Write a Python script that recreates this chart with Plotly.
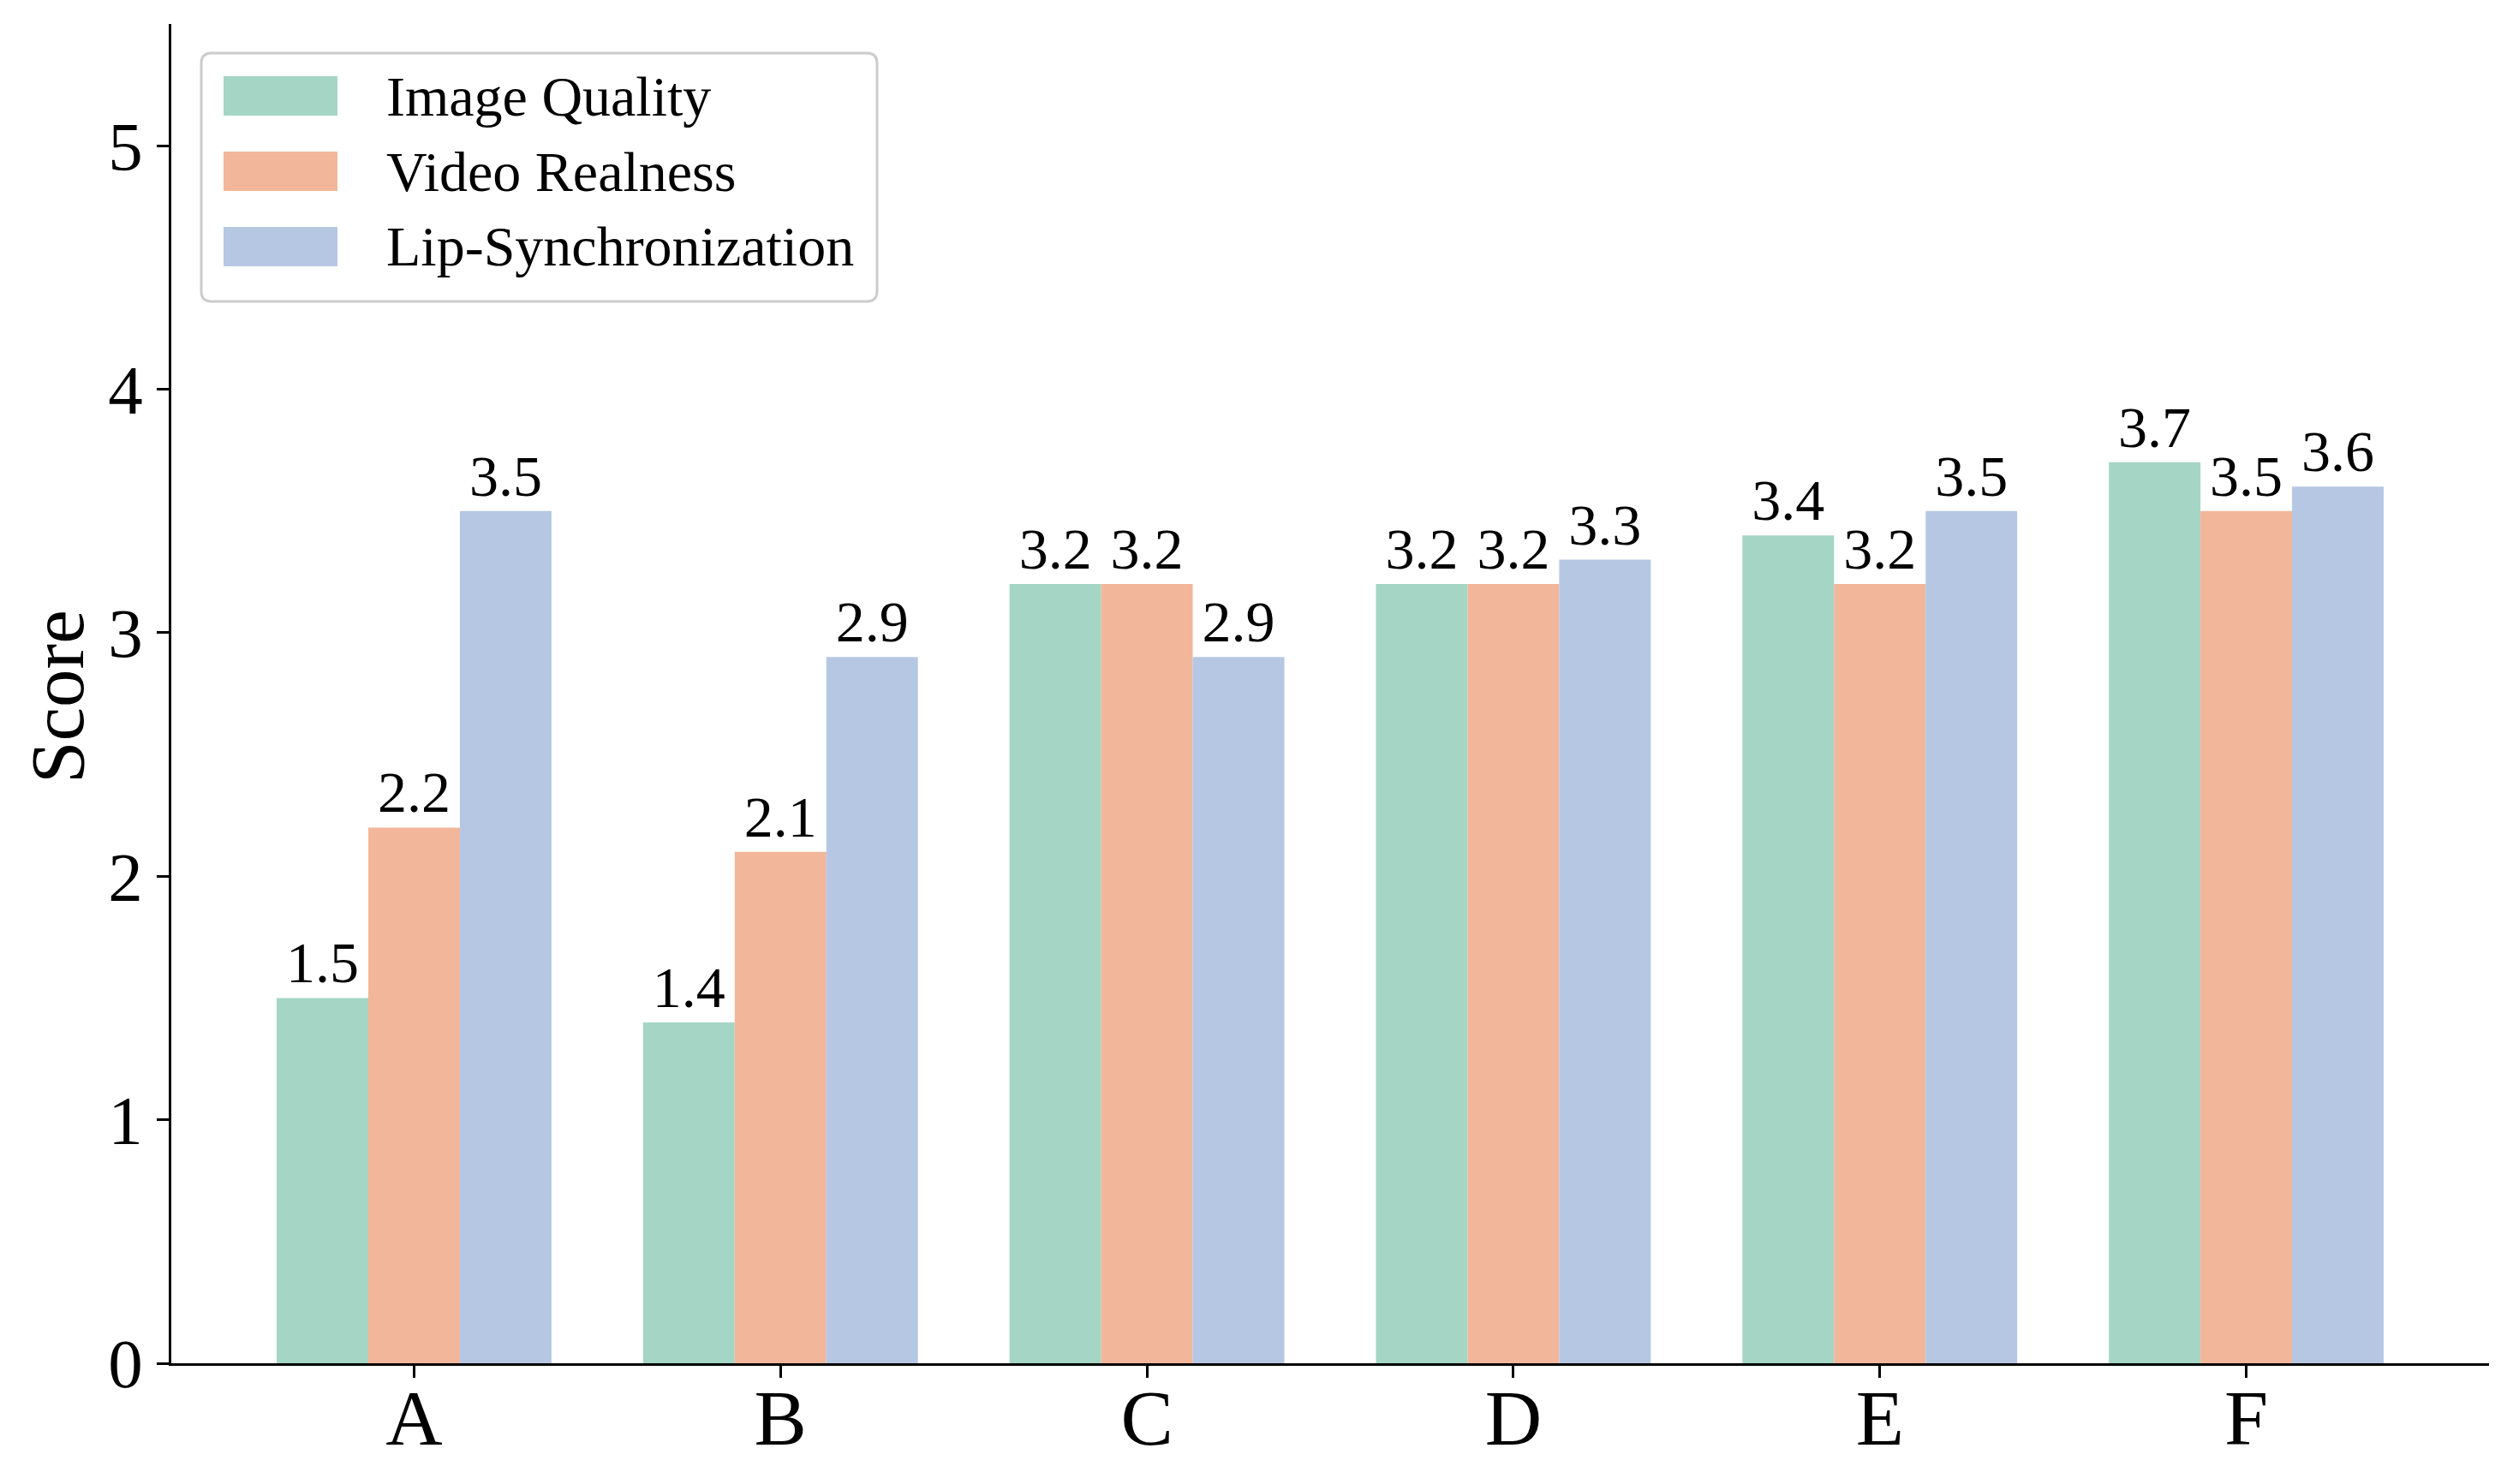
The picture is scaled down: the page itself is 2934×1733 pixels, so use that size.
import plotly.graph_objects as go

# ---------------- data ----------------
categories = ["A", "B", "C", "D", "E", "F"]
series_names = ["Image Quality", "Video Realness", "Lip-Synchronization"]
image_quality = [1.5, 1.4, 3.2, 3.2, 3.4, 3.7]
video_realness = [2.2, 2.1, 3.2, 3.2, 3.2, 3.5]
lip_sync = [3.5, 2.9, 2.9, 3.3, 3.5, 3.6]
y_ticks = [0, 1, 2, 3, 4, 5]
y_title = "Score"

# ---------------- styles ----------------
colors = ["#a4d5c5", "#f2b69a", "#b5c7e3"]
FONT = "Liberation Serif, Times New Roman, serif"
OFF = 8  # default page body margin
W, H = 2934 - OFF, 1733 - OFF
ML, MR, MT, MB = 200 - OFF, 28, 28 - OFF, 141
PW, PH = W - ML - MR, H - MT - MB

fig = go.Figure()
for name, vals, col in zip(series_names, [image_quality, video_realness, lip_sync], colors):
    fig.add_trace(go.Bar(
        x=categories, y=vals, name=name,
        marker=dict(color=col, line=dict(width=0)),
        text=[f"{v:.1f}" for v in vals],
        textposition="outside",
        constraintext="none",
        cliponaxis=False,
        textfont=dict(family=FONT, size=68, color="black"),
        showlegend=False,
    ))

# -------- custom legend (matplotlib-like), positions in page pixels --------
def px_x(px):
    return (px - OFF - ML) / PW

def px_y(py):
    return (MT + PH - (py - OFF)) / PH

shapes = []
bx0, bx1, by0, by1, r = 235, 1024, 62, 352, 12
path = (
    f"M {px_x(bx0 + r)} {px_y(by0)} L {px_x(bx1 - r)} {px_y(by0)} "
    f"Q {px_x(bx1)} {px_y(by0)} {px_x(bx1)} {px_y(by0 + r)} "
    f"L {px_x(bx1)} {px_y(by1 - r)} "
    f"Q {px_x(bx1)} {px_y(by1)} {px_x(bx1 - r)} {px_y(by1)} "
    f"L {px_x(bx0 + r)} {px_y(by1)} "
    f"Q {px_x(bx0)} {px_y(by1)} {px_x(bx0)} {px_y(by1 - r)} "
    f"L {px_x(bx0)} {px_y(by0 + r)} "
    f"Q {px_x(bx0)} {px_y(by0)} {px_x(bx0 + r)} {px_y(by0)} Z"
)
shapes.append(dict(type="path", xref="paper", yref="paper", path=path,
                   line=dict(color="#cccccc", width=3), fillcolor="rgba(255,255,255,0.8)",
                   layer="above"))
row_centers = [112, 200, 288]
annotations = []
for name, col, cy in zip(series_names, colors, row_centers):
    shapes.append(dict(type="rect", xref="paper", yref="paper",
                       x0=px_x(261), x1=px_x(394), y0=px_y(cy - 23), y1=px_y(cy + 23),
                       line=dict(width=0), fillcolor=col, layer="above"))
    annotations.append(dict(xref="paper", yref="paper", x=px_x(449), y=px_y(cy),
                            xanchor="left", yanchor="middle", text=name, showarrow=False,
                            font=dict(family=FONT, size=66, color="black")))

# y-axis title as rotated annotation (exact placement)
annotations.append(dict(xref="paper", yref="paper", x=px_x(67), y=px_y(814),
                        xanchor="center", yanchor="middle", text=y_title, textangle=-90,
                        showarrow=False, font=dict(family=FONT, size=89, color="black")))

fig.update_layout(
    width=W, height=H,
    margin=dict(l=ML, r=MR, t=MT, b=MB, autoexpand=False),
    paper_bgcolor="white", plot_bgcolor="white",
    barmode="group", bargap=0.25, bargroupgap=0,
    font=dict(family=FONT, color="black"),
    shapes=shapes, annotations=annotations,
    showlegend=False,
)
fig.update_xaxes(
    type="category", range=[-0.6625, 5.6625],
    showline=True, linecolor="black", linewidth=3,
    ticks="outside", ticklen=14, tickwidth=3, tickcolor="black",
    ticklabelstandoff=-32,
    tickfont=dict(family=FONT, size=92, color="black"),
    showgrid=False, zeroline=False,
)
fig.update_yaxes(
    range=[0, 5.5], tickvals=y_ticks,
    showline=True, linecolor="black", linewidth=3,
    ticks="outside", ticklen=14, tickwidth=3, tickcolor="black",
    ticklabelstandoff=0,
    tickfont=dict(family=FONT, size=81, color="black"),
    showgrid=False, zeroline=False,
)

fig.write_html("out.html")
